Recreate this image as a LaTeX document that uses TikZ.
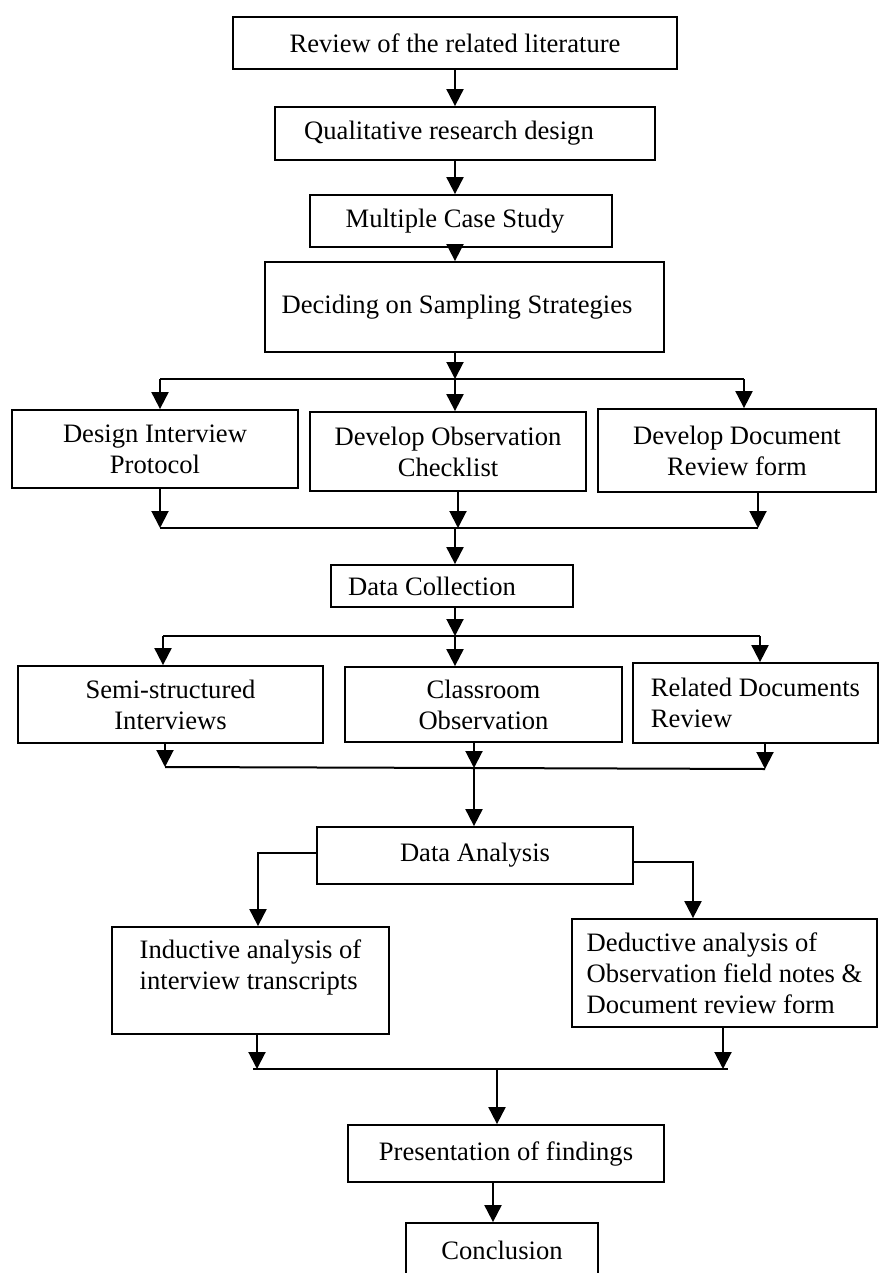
\documentclass[tikz,border=0pt]{standalone}
\usepackage{fontspec}
\setmainfont{Liberation Serif}
\usetikzlibrary{arrows.meta}
\begin{document}
\begin{tikzpicture}[x=1pt,y=-1pt,
  box/.style={draw, line width=1.8pt, inner sep=0pt, font=\fontsize{26.6}{31}\selectfont},
  arr/.style={line width=2pt, -{Triangle[length=17pt,width=17pt]}},
  ln/.style={line width=2pt},
]
\useasboundingbox (0,0) rectangle (879,1273);
\clip (0,0) rectangle (879,1273);

% top chain
\node[box, minimum width=444pt, minimum height=52pt] (b1) at (455,43) {Review of the related literature};
\node[box, minimum width=380pt, minimum height=53pt] (b2) at (465,133.5) {Qualitative research design\hspace*{32pt}};
\node[box, minimum width=302pt, minimum height=52pt] (b3) at (461,221) {Multiple Case Study\hspace*{12pt}};
\node[box, minimum width=399pt, minimum height=90pt] (b4) at (464.5,307) {Deciding on Sampling Strategies\hspace*{15pt}};

% instruments
\node[box, minimum width=286pt, minimum height=78pt, align=center] (d1) at (155,449) {Design Interview\\Protocol};
\node[box, minimum width=276pt, minimum height=79pt, align=center] (d2) at (448,451.5) {Develop Observation\\Checklist};
\node[box, minimum width=278pt, minimum height=83pt, align=center] (d3) at (737,450.5) {Develop Document\\Review form};

\node[box, minimum width=242pt, minimum height=42pt] (dc) at (452,586) {Data Collection\hspace*{40pt}};

% collection methods
\node[box, minimum width=305pt, minimum height=77pt, align=center] (s1) at (170.5,704.5) {Semi-structured\\Interviews};
\node[box, minimum width=277pt, minimum height=75pt, align=center] (s2) at (483.5,704.5) {Classroom\\Observation};
\node[box, minimum width=245pt, minimum height=80pt, align=left] (s3) at (755.5,703) {Related Documents\\Review};

\node[box, minimum width=316pt, minimum height=57pt] (da) at (475,855.5) {Data Analysis};

\node[box, minimum width=277pt, minimum height=107pt, align=left] (ind) at (250.5,980.5) {Inductive analysis of\\interview transcripts\\\mbox{}};
\node[box, minimum width=305pt, minimum height=108pt, align=left] (ded) at (724.5,973) {Deductive analysis of\\Observation field notes \&\\Document review form};

\node[box, minimum width=316pt, minimum height=57pt] (pf) at (506,1153.5) {Presentation of findings};
\node[box, minimum width=192pt, minimum height=54pt] (cc) at (502,1250) {Conclusion};

% junction coordinates
\coordinate (j0) at (455,379);
\coordinate (j0l) at (160,379);
\coordinate (j0r) at (744,379);
\coordinate (m1l) at (160,528);
\coordinate (m1) at (458,528);
\coordinate (m1r) at (758,528);
\coordinate (j2) at (455,636);
\coordinate (j2l) at (163,636);
\coordinate (j2r) at (760,636);
\coordinate (m2l) at (165,767);
\coordinate (m2) at (474,768);
\coordinate (m2r) at (765,769);
\coordinate (m3l) at (257,1069);
\coordinate (m3) at (497,1069);
\coordinate (m3r) at (723,1069);
\coordinate (m3a) at (253,1069);
\coordinate (m3b) at (728,1069);
\coordinate (pc) at (493,1200);

% connectors top chain
\draw[arr] (b1.south -| j0) -- (b2.north -| j0);
\draw[arr] (b2.south -| j0) -- (b3.north -| j0);
\draw[arr] (b3.south -| j0) -- (b4.north -| j0);
\draw[arr] (b4.south -| j0) -- (j0);
\draw[ln] (j0l) -- (j0r);
\draw[arr] (j0l) -- (j0l |- d1.north);
\draw[arr] (j0) -- (j0 |- d2.north);
\draw[arr] (j0r) -- (j0r |- d3.north);

% merge 1
\draw[arr] (d1.south -| m1l) -- (m1l);
\draw[arr] (d2.south -| m1) -- (m1);
\draw[arr] (d3.south -| m1r) -- (m1r);
\draw[ln] (m1l) -- (m1r);
\draw[arr] (m1 -| j0) -- (dc.north -| j0);

% branch 2
\draw[arr] (dc.south -| j2) -- (j2);
\draw[ln] (j2l) -- (j2r);
\draw[arr] (j2l) -- (j2l |- s1.north);
\draw[arr] (j2) -- (j2 |- s2.north);
\draw[arr] (j2r) -- (j2r |- s3.north);

% merge 2
\draw[arr] (s1.south -| m2l) -- (m2l);
\draw[arr] (s2.south -| m2) -- (m2);
\draw[arr] (s3.south -| m2r) -- (m2r);
\draw[ln] (m2l) -- (m2) -- (m2r);
\draw[arr] (m2) -- (m2 |- da.north);

% analysis split
\draw[arr] ([yshift=2.5pt]da.west) -| ([xshift=7.5pt]ind.north);
\draw[arr] ([yshift=-6.5pt]da.east) -| ([xshift=-31.5pt]ded.north);

% merge 3
\draw[arr] (ind.south -| m3l) -- (m3l);
\draw[arr] (ded.south -| m3r) -- (m3r);
\draw[ln] (m3a) -- (m3b);
\draw[arr] (m3) -- (m3 |- pf.north);
\draw[arr] (pc |- pf.south) -- (pc |- cc.north);
\end{tikzpicture}
\end{document}
